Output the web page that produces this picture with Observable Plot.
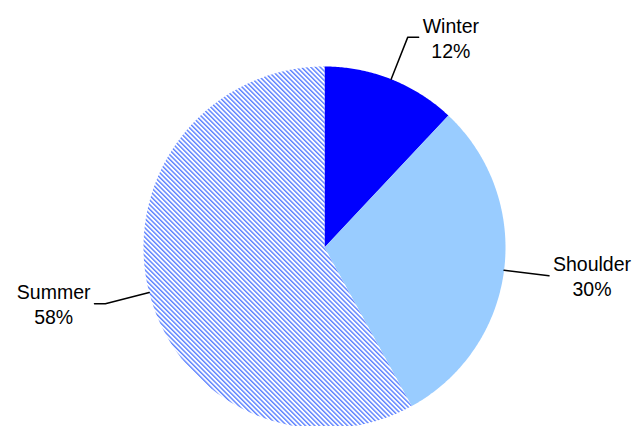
<!DOCTYPE html>
<html><head><meta charset="utf-8">
<script src="https://cdn.jsdelivr.net/npm/d3@7"></script>
<script src="https://cdn.jsdelivr.net/npm/@observablehq/plot@0.6"></script>
<style>body{margin:0;background:#fff;} #chart{width:634px;height:426px;}</style>
</head><body><div id="chart"></div>
<script>
const categories = ["Winter", "Shoulder", "Summer"];
const shares = [12, 30, 58];
const shareLabels = ["12%", "30%", "58%"];
const sliceFills = ["#0000FF", "#99CCFF", "url(#summerHatch)"];

const W = 634, H = 426, CX = 324, CY = 247, R = 181;
const FONT = "19.5px 'Liberation Sans', Arial, sans-serif";

const total = d3.sum(shares);
let acc = 0;
const slices = categories.map((c, i) => {
  const a0 = acc / total * 2 * Math.PI; acc += shares[i];
  const a1 = acc / total * 2 * Math.PI;
  return {c, i, a0, a1, mid: (a0 + a1) / 2};
});

// slice outlines (center + arc), in unit-circle coordinates
const outline = [];
slices.forEach(s => {
  outline.push({c: s.c, x: 0, y: 0});
  const n = Math.max(2, Math.ceil((s.a1 - s.a0) / (Math.PI / 360)));
  for (let k = 0; k <= n; k++) {
    const a = s.a0 + (s.a1 - s.a0) * k / n;
    outline.push({c: s.c, x: Math.sin(a), y: Math.cos(a)});
  }
  outline.push({c: s.c, x: 0, y: 0});
});

// leader lines and labels
const ctx = document.createElement("canvas").getContext("2d");
ctx.font = FONT;
const leaders = [], texts = [];
slices.forEach(s => {
  const sx = Math.sin(s.mid), sy = Math.cos(s.mid);
  const side = sx >= 0 ? 1 : -1;
  const ex = 1.25 * sx, ey = 1.25 * sy;
  const h = Math.abs(sy) > 0.2 ? 0.06 : 0;
  leaders.push({c: s.c, x: sx, y: sy}, {c: s.c, x: ex, y: ey}, {c: s.c, x: ex + side * h, y: ey});
  const lines = [s.c, shareLabels[s.i]];
  const w = Math.max(...lines.map(t => ctx.measureText(t).width));
  texts.push({text: lines.join("\n"), x: ex + side * h + side * (4 + w / 2) / R, y: ey});
});

const x0 = -CX / R, x1 = (W - CX) / R, y0 = -(H - CY) / R, y1 = CY / R;

const svg = Plot.plot({
  width: W, height: H,
  margin: 0,
  x: {domain: [x0, x1], range: [0, W], axis: null},
  y: {domain: [y0, y1], range: [H, 0], axis: null},
  style: {fontFamily: "'Liberation Sans', Arial, sans-serif", background: "#fff"},
  marks: [
    ...slices.map(s => Plot.line(outline.filter(d => d.c === s.c), {x: "x", y: "y", fill: sliceFills[s.i], stroke: "none", curve: "linear"})),
    Plot.line(leaders, {x: "x", y: "y", z: "c", stroke: "#000", strokeWidth: 1.5}),
    Plot.text(texts, {x: "x", y: "y", text: "text", textAnchor: "middle", lineAnchor: "middle", lineHeight: 1.28, fontSize: 19.5, fill: "#000"})
  ]
});

const defs = d3.select(svg).insert("defs", ":first-child");
const pat = defs.append("pattern").attr("id", "summerHatch")
  .attr("patternUnits", "userSpaceOnUse").attr("width", 3.3).attr("height", 3.3)
  .attr("patternTransform", "rotate(-45)");
pat.append("rect").attr("width", 3.3).attr("height", 3.3).attr("fill", "#fff");
pat.append("rect").attr("width", 1.4).attr("height", 3.3).attr("fill", "#5a80ff");

document.getElementById("chart").appendChild(svg);
</script>
</body></html>
